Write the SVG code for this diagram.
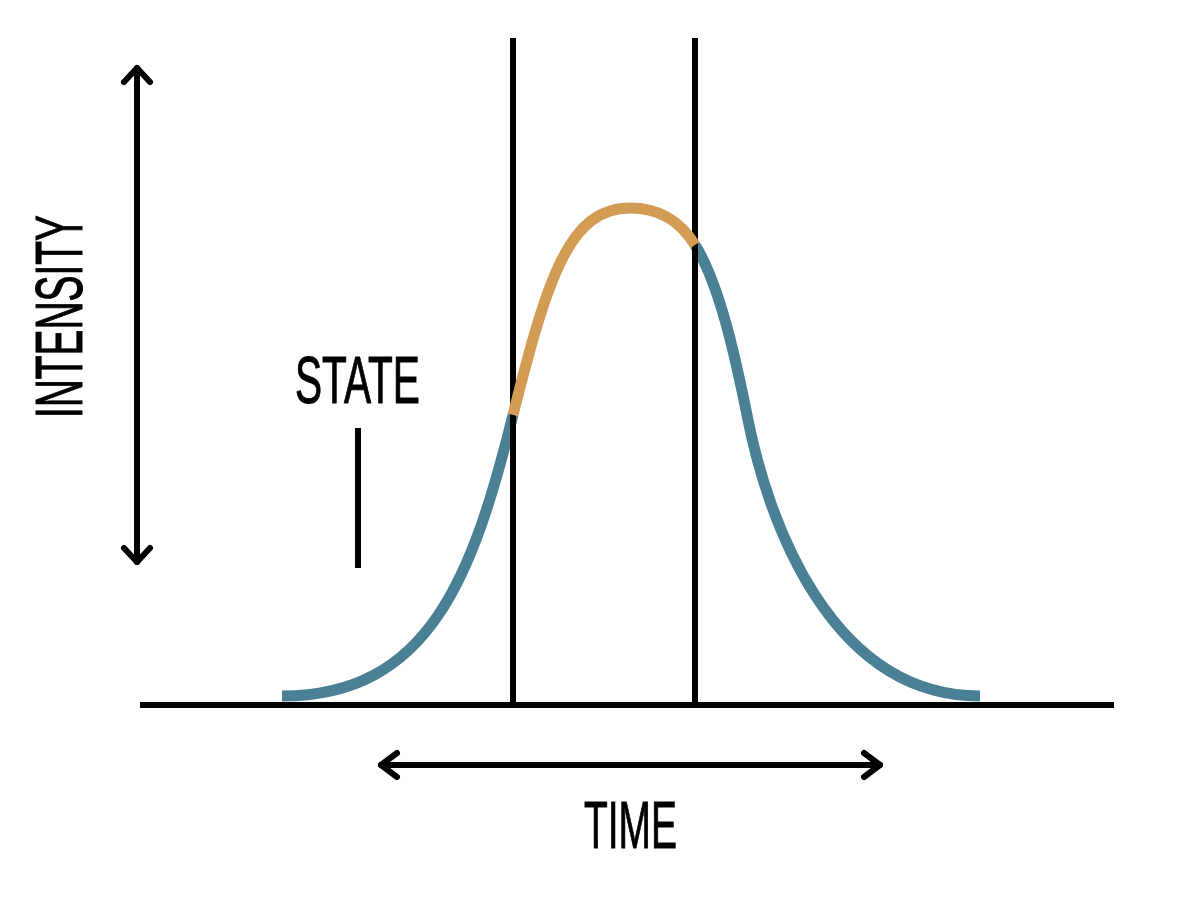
<svg xmlns="http://www.w3.org/2000/svg" width="1200" height="910" viewBox="0 0 1200 910">
<style>
.ln{stroke:#000;stroke-width:6;fill:none}
.arr{stroke:#000;stroke-width:6;fill:none;stroke-linecap:round;stroke-linejoin:round}
.blue{stroke:#4a8095;stroke-width:11;fill:none;stroke-linecap:butt}
.orange{stroke:#d39c55;stroke-width:11;fill:none;stroke-linecap:butt}
.lbl{font-family:"Liberation Sans Narrow","Liberation Sans",Arial,sans-serif;font-size:67px;fill:#000;stroke:#000;stroke-width:1}
</style>
<rect width="1200" height="910" fill="#fff"/>
<g id="curve-tails">
<path class="blue" d="M282,696 C430,696 473,575 513,415"/>
<path class="blue" d="M695,245 C720,285 736,360 748,420 C768,520 830,696 980,696"/>
</g>
<g id="axes">
<line class="ln" x1="140" y1="705" x2="1114" y2="705" stroke-width="7"/>
<line class="ln" x1="513" y1="38" x2="513" y2="705"/>
<line class="ln" x1="695" y1="38" x2="695" y2="705"/>
</g>
<g id="curve-state">
<path class="orange" d="M513,415 C548,275 570,208 630,208 C660,208 680,221 695,245"/>
</g>
<g id="intensity-arrow">
<line class="arr" x1="137" y1="68" x2="137" y2="562"/>
<polyline class="arr" points="124,82 137,68 150,82"/>
<polyline class="arr" points="124,548 137,562 150,548"/>
</g>
<g id="time-arrow">
<line class="arr" x1="381" y1="765" x2="880" y2="765"/>
<polyline class="arr" points="397,753 381,765 397,777"/>
<polyline class="arr" points="864,753 880,765 864,777"/>
</g>
<g id="state-marker">
<line class="ln" x1="358" y1="428" x2="358" y2="568" stroke-width="7"/>
</g>
<g id="labels">
<text class="lbl" x="295" y="403" textLength="125" lengthAdjust="spacingAndGlyphs">STATE</text>
<text class="lbl" x="584" y="848" textLength="93" lengthAdjust="spacingAndGlyphs">TIME</text>
<text class="lbl" transform="translate(82,317) rotate(-90)" x="-101" y="0" textLength="203" lengthAdjust="spacingAndGlyphs">INTENSITY</text>
</g>
</svg>
